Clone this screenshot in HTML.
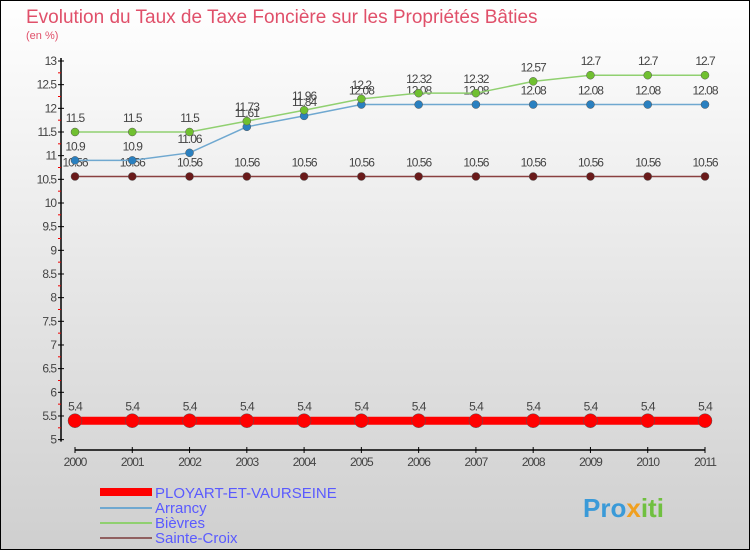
<!DOCTYPE html>
<html><head><meta charset="utf-8"><style>
body{margin:0}
svg{display:block;font-family:"Liberation Sans",sans-serif}
</style></head><body>
<svg id="c" width="750" height="550">
<defs><linearGradient id="bg" x1="0" y1="0" x2="0" y2="1"><stop offset="0" stop-color="#ffffff"/><stop offset="1" stop-color="#cfcfcf"/></linearGradient></defs>
<rect x="0.5" y="0.5" width="749" height="549" fill="url(#bg)" stroke="#000"/>
<text x="26" y="23" font-size="19" fill="#e0506a">Evolution du Taux de Taxe Foncière sur les Propriétés Bâties</text>
<text x="26" y="39" font-size="11" fill="#e0506a">(en %)</text>
<g id="axes"></g><g id="series"></g>
<g>
<rect x="100" y="488" width="52" height="8" fill="#f00"/>
<text x="155" y="498" font-size="15" fill="#5a5aff">PLOYART-ET-VAURSEINE</text>
<line x1="100" x2="152" y1="508" y2="508" stroke="#6fa8d0" stroke-width="2"/>
<text x="155" y="513" font-size="15" fill="#5a5aff">Arrancy</text>
<line x1="100" x2="152" y1="523" y2="523" stroke="#90d070" stroke-width="2"/>
<text x="155" y="528" font-size="15" fill="#5a5aff">Bièvres</text>
<line x1="100" x2="152" y1="538" y2="538" stroke="#906060" stroke-width="2"/>
<text x="155" y="543" font-size="15" fill="#5a5aff">Sainte-Croix</text>
</g>
<text x="583" y="517" font-size="26" font-weight="bold" fill="#3a9ad8">Pro<tspan fill="#f0a020">x</tspan><tspan fill="#70c040">iti</tspan></text>
</svg>
<script>
const years=[2000,2001,2002,2003,2004,2005,2006,2007,2008,2009,2010,2011];
const yTicks=[5,5.5,6,6.5,7,7.5,8,8.5,9,9.5,10,10.5,11,11.5,12,12.5,13];
const ployart=[5.4,5.4,5.4,5.4,5.4,5.4,5.4,5.4,5.4,5.4,5.4,5.4];
const arrancy=[10.9,10.9,11.06,11.61,11.84,12.08,12.08,12.08,12.08,12.08,12.08,12.08];
const bievres=[11.5,11.5,11.5,11.73,11.96,12.2,12.32,12.32,12.57,12.7,12.7,12.7];
const sainteCroix=[10.56,10.56,10.56,10.56,10.56,10.56,10.56,10.56,10.56,10.56,10.56,10.56];
const NS="http://www.w3.org/2000/svg";
const X=i=>75+i*(630/11);
const Y=v=>61+(13-v)*47.33;
function mk(t,a,p){const e=document.createElementNS(NS,t);for(const k in a)e.setAttribute(k,a[k]);p.appendChild(e);return e;}
const ax=document.getElementById('axes');
const yl=mk('line',{x1:61,x2:61,y1:58,y2:Y(5)+2,stroke:'#000','stroke-width':1.5},ax);

yTicks.forEach(v=>{
 mk('line',{x1:58,x2:64,y1:Y(v),y2:Y(v),stroke:'#000'},ax);
 if(v<13)mk('line',{x1:58,x2:61,y1:Y(v+0.25),y2:Y(v+0.25),stroke:'#e00'},ax);
 const t=mk('text',{x:56,y:Y(v)+4,'font-size':12,fill:'#444','text-anchor':'end','letter-spacing':'-1'},ax);
 t.textContent=String(v);
 
});
const xl=mk('line',{x1:X(0),x2:X(11),y1:450,y2:450,stroke:'#000','stroke-width':1.5},ax);

years.forEach((y,i)=>{
 mk('line',{x1:X(i),x2:X(i),y1:447,y2:453,stroke:'#000'},ax);
 const t=mk('text',{x:X(i),y:466,'font-size':12,fill:'#444','text-anchor':'middle','letter-spacing':'-1'},ax);
 t.textContent=String(y);
 
});
const sg=document.getElementById('series');
function series(d,name,col,lw,r,dot){
 const g=mk('g',{},sg);
 
 const pl=mk('polyline',{points:d.map((v,i)=>X(i)+','+Y(v)).join(' '),fill:'none',stroke:col,'stroke-width':lw},g);
 
 d.forEach((v,i)=>{
  const c=mk('circle',{cx:X(i),cy:Y(v),r:r,fill:dot,stroke:'#555','stroke-width':0.5},g);
  
  const t=mk('text',{x:X(i),y:Y(v)-10,'font-size':12,fill:'#444','text-anchor':'middle','letter-spacing':'-1'},g);
  t.textContent=String(v);
  
 });
}
series(sainteCroix,'sainte-croix','#8a4040',1.5,4,'#6a1a1a');
series(arrancy,'arrancy','#6fa8d0',1.5,4,'#2a80c0');
series(bievres,'bievres','#90d070',1.5,4,'#70c030');
series(ployart,'ployart','#f00',8,7,'#f00');
</script>
</body></html>
